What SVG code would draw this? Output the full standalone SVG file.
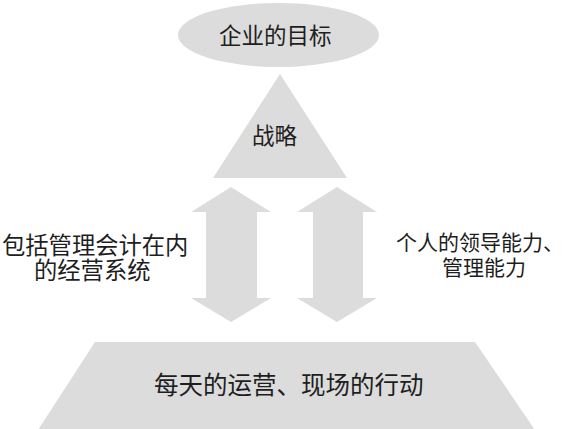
<svg xmlns="http://www.w3.org/2000/svg" width="566" height="429" viewBox="0 0 566 429">
<style>
.shape{fill:#dcdcdc;stroke:none}
.t{font-family:"Noto Sans CJK SC","Noto Sans",sans-serif;fill:#1e1e1e}
</style>
<rect width="566" height="429" fill="#ffffff"/>
<g id="goal">
<ellipse class="shape" cx="278.5" cy="35" rx="100.5" ry="32"/>
<text class="t" x="219" y="43.5" font-size="22.5">企业的目标</text>
</g>
<g id="strategy">
<polygon class="shape" points="280,74 347,178 213,178"/>
<text class="t" x="252" y="144" font-size="22.5">战略</text>
</g>
<g id="connectors">
<polygon class="shape" points="231,187 271,212 257,212 257,298 271,298 231,322 191,298 206,298 206,212 191,212"/>
<polygon class="shape" points="337,187 377,212 363,212 363,298 377,298 337,322 297,298 313,298 313,212 297,212"/>
</g>
<g id="system">
<text class="t" x="2" y="254" font-size="23.3">包括管理会计在内</text>
<text class="t" x="34" y="279" font-size="23.3">的经营系统</text>
</g>
<g id="leadership">
<text class="t" x="396" y="249.5" font-size="21">个人的领导能力、</text>
<text class="t" x="442" y="274.5" font-size="21">管理能力</text>
</g>
<g id="operations">
<polygon class="shape" points="95,342 475,342 535,430 38,430"/>
<text class="t" x="154" y="394" font-size="24.5">每天的运营、现场的行动</text>
</g>
</svg>
